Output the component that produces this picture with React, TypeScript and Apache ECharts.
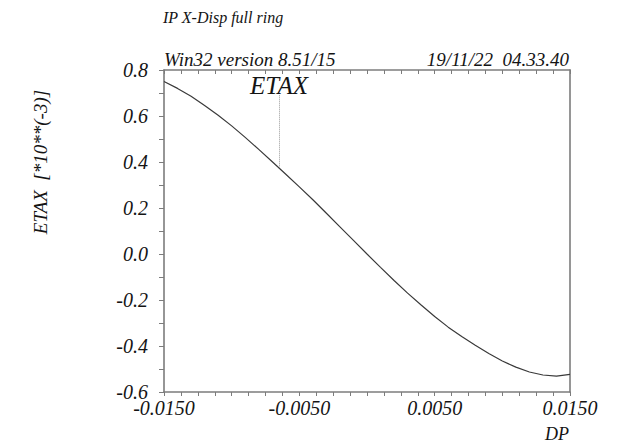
import React, { useEffect, useRef } from "react";
import * as echarts from "echarts";

// Momentum offset DP and horizontal dispersion ETAX (units of 1e-3)
const dpValues = [
  -0.015, -0.014, -0.013, -0.012, -0.011, -0.01, -0.009, -0.008, -0.007, -0.006,
  -0.005, -0.004, -0.003, -0.002, -0.001, 0.0, 0.001, 0.002, 0.003, 0.004,
  0.005, 0.006, 0.007, 0.008, 0.009, 0.01, 0.011, 0.012, 0.013, 0.014, 0.015,
];
const etaxValues = [
  0.75, 0.72, 0.686, 0.646, 0.603, 0.557, 0.507, 0.455, 0.401, 0.347,
  0.292, 0.236, 0.177, 0.118, 0.059, 0.0, -0.058, -0.115, -0.17, -0.222,
  -0.272, -0.318, -0.359, -0.397, -0.433, -0.465, -0.492, -0.513, -0.526, -0.531,
  -0.523,
];

const xRange = [-0.015, 0.015];
const yRange = [-0.6, 0.8];
const xTickStep = 0.00125;
const yTickStep = 0.1;

const plotTitle = "IP X-Disp full ring";
const versionText = "Win32 version 8.51/15";
const stampText = "19/11/22  04.33.40";
const yAxisTitle = "ETAX  [*10**(-3)]";
const xAxisTitle = "DP";
const curveName = "ETAX";
const curveLabelDp = -0.0065;
const curveLabelTop = 0.69;

function etaxAt(dp: number): number {
  for (let i = 0; i < dpValues.length - 1; i++) {
    const a = dpValues[i];
    const b = dpValues[i + 1];
    if (dp >= a && dp <= b) {
      const t = (dp - a) / (b - a);
      return etaxValues[i] + t * (etaxValues[i + 1] - etaxValues[i]);
    }
  }
  return etaxValues[etaxValues.length - 1];
}

const FONT = "'Liberation Serif', 'Times New Roman', serif";
const INK = "#141414";
const AXIS = "#7c7c7c";

export default function App() {
  const ref = useRef<HTMLDivElement>(null);

  useEffect(() => {
    if (!ref.current) return;
    const chart = echarts.init(ref.current, null, { renderer: "svg" });

    const labelStyle = {
      fontFamily: FONT,
      fontStyle: "italic" as const,
      fontSize: 20,
      color: INK,
    };

    chart.setOption({
      animation: false,
      backgroundColor: "#ffffff",
      grid: { left: 164, right: 56, top: 70, bottom: 52, containLabel: false },
      xAxis: [
        {
          type: "value",
          position: "bottom",
          min: xRange[0],
          max: xRange[1],
          interval: xTickStep,
          axisLine: { show: true, onZero: false, lineStyle: { color: AXIS, width: 1.6 } },
          axisTick: { show: true, inside: false, length: 4, lineStyle: { color: AXIS, width: 1 } },
          splitLine: { show: false },
          axisLabel: {
            ...labelStyle,
            margin: 6,
            showMinLabel: true,
            showMaxLabel: true,
            formatter: (v: number) => {
              const k = Math.round((v - xRange[0]) / xTickStep);
              return k % 8 === 0 ? v.toFixed(4) : "";
            },
          },
        },
        {
          type: "value",
          position: "top",
          min: xRange[0],
          max: xRange[1],
          interval: xTickStep,
          axisLine: { show: true, onZero: false, lineStyle: { color: AXIS, width: 1.6 } },
          axisTick: { show: true, inside: true, length: 4, lineStyle: { color: AXIS, width: 1 } },
          axisLabel: { show: false },
          splitLine: { show: false },
        },
      ],
      yAxis: [
        {
          type: "value",
          position: "left",
          min: yRange[0],
          max: yRange[1],
          interval: yTickStep,
          axisLine: { show: true, onZero: false, lineStyle: { color: AXIS, width: 1.6 } },
          axisTick: { show: true, inside: false, length: 5, lineStyle: { color: AXIS, width: 1 } },
          splitLine: { show: false },
          axisLabel: {
            ...labelStyle,
            margin: 16,
            showMinLabel: true,
            showMaxLabel: true,
            formatter: (v: number) => {
              const k = Math.round(v / yTickStep);
              return k % 2 === 0 ? v.toFixed(1) : "";
            },
          },
        },
        {
          type: "value",
          position: "right",
          min: yRange[0],
          max: yRange[1],
          interval: yTickStep,
          axisLine: { show: true, onZero: false, lineStyle: { color: AXIS, width: 1.6 } },
          axisTick: { show: false },
          axisLabel: { show: false },
          splitLine: { show: false },
        },
      ],
      series: [
        {
          type: "line",
          name: curveName,
          xAxisIndex: 0,
          yAxisIndex: 0,
          data: dpValues.map((d, i) => [d, etaxValues[i]]),
          showSymbol: false,
          smooth: false,
          lineStyle: { color: "#3a3a3a", width: 1.2 },
          markLine: {
            silent: true,
            symbol: ["none", "none"],
            label: { show: false },
            lineStyle: { type: "dotted", color: "#9a9a9a", width: 1 },
            data: [
              [
                { coord: [curveLabelDp, curveLabelTop] },
                { coord: [curveLabelDp, etaxAt(curveLabelDp)] },
              ],
            ],
          },
          markPoint: {
            silent: true,
            symbol: "circle",
            symbolSize: 1,
            itemStyle: { color: "rgba(0,0,0,0)" },
            data: [{ coord: [curveLabelDp, curveLabelTop], value: 0 }],
            label: {
              show: true,
              position: "top",
              distance: -3,
              formatter: curveName,
              fontFamily: FONT,
              fontStyle: "italic",
              fontSize: 25,
              color: INK,
            },
          },
        },
      ],
      graphic: [
        {
          type: "text",
          left: 163,
          top: 9,
          style: { text: plotTitle, font: `italic 16px ${FONT}`, fill: INK },
        },
        {
          type: "text",
          left: 164,
          top: 50,
          style: { text: versionText, font: `italic 19px ${FONT}`, fill: INK },
        },
        {
          type: "text",
          right: 57,
          top: 50,
          style: { text: stampText, font: `italic 19px ${FONT}`, fill: INK },
        },
        {
          type: "text",
          x: 40,
          y: 162,
          rotation: Math.PI / 2,
          style: {
            text: yAxisTitle,
            font: `italic 19px ${FONT}`,
            fill: INK,
            align: "center",
            verticalAlign: "middle",
          },
        },
        {
          type: "text",
          x: 557,
          y: 434,
          style: {
            text: xAxisTitle,
            font: `italic 18px ${FONT}`,
            fill: INK,
            align: "center",
            verticalAlign: "middle",
          },
        },
      ],
    });

    return () => chart.dispose();
  }, []);

  return (
    <div
      ref={ref}
      style={{ position: "fixed", left: 0, top: 0, width: 626, height: 444, background: "#fff" }}
    />
  );
}
